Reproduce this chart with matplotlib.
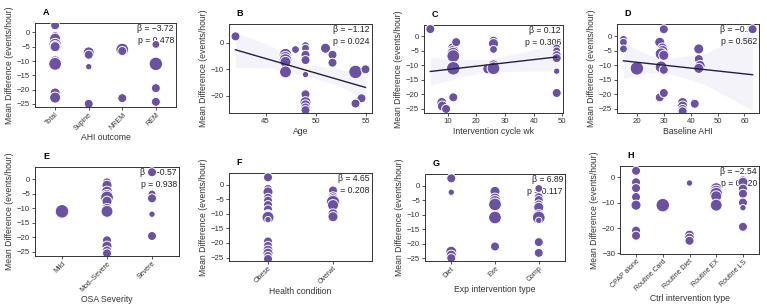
"""Meta-regression bubble plots (panels A-H)."""

import matplotlib.pyplot as plt
import numpy as np

plt.rcParams['font.family'] = ['Liberation Sans', 'DejaVu Sans']

W, H = 767, 308
PURPLE = '#6a51a3'
LINE = '#231d45'
BAND = '#efecf8'
YLAB = 'Mean Difference (events/hour)'

# ---- Panel A: AHI outcome ----
a_cats = ['Total', 'Supine', 'NREM', 'REM']
a_x = [1, 1, 1, 1, 1, 1, 1, 1, 1, 1, 2, 2, 2, 2, 3, 3, 3, 4, 4, 4, 4]
a_y = [2.5, -1.5, -2.2, -4.3, -4.8, -5.0, -10.3, -11.0, -21.2, -22.8,
       -7.0, -7.8, -12.0, -25.0, -6.0, -6.5, -23.0, -4.2, -11.0, -19.5, -24.3]
a_w = [4, 5, 6, 8, 6, 5, 7, 8, 5, 6, 6, 4, 2, 4, 8, 4, 4, 3, 9, 4, 4]

# ---- Panel B: Age ----
b_x = [42, 47, 47, 47, 47, 47, 48, 49, 49, 49, 49, 49, 49, 49, 49, 49, 49,
       51, 51.7, 51.7, 54, 55, 54.6, 54]
b_y = [2.5, -4.5, -5.5, -6.5, -7.2, -11, -2.5, -1, -2, -4.5, -6.5, -12, -19.5,
       -22.5, -23.5, -24.5, -25.5, -2, -4.5, -7.5, -11, -10, -21, -23]
b_w = [4, 8, 7, 8, 6, 7, 3, 3, 3, 4, 4, 2, 4, 6, 5, 4, 4, 5, 4, 4, 9, 4, 4, 4]
b_fit = (-2.6, -16.9)  # line at x=42 and x=55
b_band_x = [42, 45.5, 49, 52, 55]
b_band_lo = [-9.3, -9.5, -12.6, -15.8, -21.4]
b_band_hi = [4.0, -1.0, -8.0, -9.8, -12.4]

# ---- Panel C: Intervention cycle wk ----
c_x = [4, 12, 12, 12, 12, 12, 13, 12, 8, 8.2, 9.5, 24, 26, 26, 26, 26, 26,
       48, 48, 48, 48, 48, 48]
c_y = [2.5, -4, -5, -6, -6.8, -11, -2, -21, -22.8, -24, -25, -11.2, -1.5,
       -2.5, -4.5, -10, -11, -4, -5, -6.5, -7.5, -12, -19.5]
c_w = [4, 6, 6, 8, 8, 9, 4, 4, 5, 5, 4, 5, 4, 5, 3, 6, 8, 3, 3, 4, 4, 2, 4]
c_fit = (-12.1, -7.1)  # line at x=4 and x=48
c_band_x = [4, 15, 24, 36, 48]
c_band_lo = [-17.0, -13.8, -12.2, -12.0, -12.0]
c_band_hi = [-7.3, -8.0, -8.0, -5.5, -2.4]

# ---- Panel D: Baseline AHI ----
d_x = [15, 15, 15, 20, 28.5, 28.5, 30, 29.5, 29.5, 29, 30, 29, 30, 30,
       37, 37, 37, 37, 41.5, 43, 43, 43.5, 43, 63]
d_y = [-1, -2, -4.3, -11, -2, -21, 2.5, -4, -5, -6, -6.5, -10.5, -11.5, -19.5,
       -22.8, -24, -25, -25.8, -23.2, -4.3, -7.8, -10, -11, 2.5]
d_w = [3, 3, 3, 9, 5, 4, 4, 5, 6, 7, 5, 7, 4, 4, 5, 5, 4, 4, 4, 5, 4, 5, 5, 4]
d_fit = (-8.4, -13.2)  # line at x=15 and x=63
d_band_x = [15, 25, 33, 45, 63]
d_band_lo = [-14.5, -12.5, -13.0, -16.5, -25.5]
d_band_hi = [-2.3, -6.5, -7.4, -6.0, 2.0]

# ---- Panel E: OSA Severity ----
e_cats = ['Mild', 'Mod\u2013Severe', 'Severe']
e_x = [1] + [2] * 12 + [3] * 5
e_y = [-11, -1, -2, -4.2, -5.5, -6.2, -7.5, -10, -11, -21, -23, -24.5, -25.5,
       2.5, -5, -6.5, -12, -19.5]
e_w = [9, 4, 5, 6, 7, 8, 5, 5, 7, 4, 5, 4, 4, 4, 3, 4, 2, 4]

# ---- Panel F: Health condition ----
f_cats = ['Obese', 'Overwt']
f_x = [1] * 17 + [2] * 7
f_y = [2.5, -1.5, -2.5, -4.5, -5.5, -7, -8.5, -10.5, -11, -11.2, -12, -19.5,
       -21, -22.5, -23.5, -24.5, -25.5, -2, -4.2, -5, -6, -7, -10, -11]
f_w = [4, 4, 5, 4, 4, 4, 4, 6, 8, 7, 2, 4, 4, 5, 5, 4, 4, 4, 5, 6, 9, 6, 5, 5]

# ---- Panel G: Exp intervention type ----
g_cats = ['Diet', 'Exe', 'Comp']
g_x = [1] * 5 + [2] * 6 + [3] * 10
g_y = [2.5, -2.3, -22.8, -24, -25, -2, -4.5, -5.5, -6.5, -11, -21,
       -1, -4, -5, -6.5, -7.5, -10, -11, -12, -19.5, -23.2]
g_w = [4, 2, 6, 5, 4, 5, 6, 7, 8, 8, 4, 3, 4, 4, 4, 5, 5, 8, 2, 4, 4]

# ---- Panel H: Ctrl intervention type ----
h_cats = ['CPAP alone', 'Routine Card', 'Routine Diet', 'Routine EX', 'Routine LS']
h_x = [1] * 7 + [2] + [3] * 4 + [4] * 5 + [5] * 7
h_y = [2.5, -2, -4.3, -7.8, -11, -21, -23, -11, -2.3, -22.8, -24, -25,
       -4.5, -5.5, -6.5, -7.5, -11, -1, -2, -4.5, -6.5, -10, -12, -19.5]
h_w = [4, 4, 4, 4, 5, 4, 4, 9, 2, 5, 5, 4, 7, 7, 8, 6, 7, 3, 5, 4, 4, 4, 2, 4]

stats = {
    'A': ('\u22123.72', '0.478'), 'B': ('\u22121.12', '0.024'),
    'C': ('0.12', '0.306'), 'D': ('\u22120.10', '0.562'),
    'E': ('\u22120.57', '0.938'), 'F': ('4.65', '0.208'),
    'G': ('6.89', '0.117'), 'H': ('\u22122.54', '0.120'),
}

# axes boxes in pixels: left, top, right, bottom
boxes = {
    'A': (35, 23, 176, 107), 'B': (229, 24, 372, 113),
    'C': (424, 25, 563, 113), 'D': (617, 24, 759, 113),
    'E': (35, 167, 179, 256), 'F': (229, 173, 372, 261),
    'G': (425, 174, 565, 261), 'H': (620, 166, 759, 254),
}

fig = plt.figure(figsize=(W / 100, H / 100), dpi=100)


def make_ax(key):
    l, t, r, b = boxes[key]
    ax = fig.add_axes([l / W, 1 - b / H, (r - l) / W, (b - t) / H])
    for s in ax.spines.values():
        s.set_color('#333333')
        s.set_linewidth(0.7)
    ax.tick_params(labelsize=5.6, length=2, width=0.6, color='#333333',
                   labelcolor='#333333', pad=1.5)
    ax.set_ylabel(YLAB, fontsize=6.2, color='#333333', labelpad=2)
    ax.text(0.055, 1.07, key, transform=ax.transAxes, fontsize=6.5,
            fontweight='bold', va='bottom', ha='left')
    beta, p = stats[key]
    ax.text(0.985, 0.985, '\u03b2 = %s\np = %s' % (beta, p),
            transform=ax.transAxes, ha='right', va='top', fontsize=6.2,
            color='#222222', linespacing=1.45, zorder=2)
    return ax


def bubbles(ax, x, y, w):
    ax.scatter(x, y, s=np.array(w) * 10.5, color=PURPLE, edgecolor='white',
               linewidth=0.7, zorder=3)


def cat_panel(key, cats, x, y, w, ylim, rot_lab):
    ax = make_ax(key)
    bubbles(ax, x, y, w)
    ax.set_xlim(0.4, len(cats) + 0.6)
    ax.set_xticks(range(1, len(cats) + 1))
    ax.set_xticklabels(cats, rotation=45, ha='right', rotation_mode='anchor',
                       fontsize=5.0)
    ax.tick_params(axis='x', pad=1)
    ax.set_ylim(*ylim)
    ax.set_xlabel(rot_lab, fontsize=6.2, color='#333333', labelpad=1)
    return ax


def reg_panel(key, x, y, w, fit, bx, blo, bhi, xlim, ylim, xlab):
    ax = make_ax(key)
    ax.fill_between(bx, blo, bhi, color=BAND, alpha=0.6, lw=0, zorder=1)
    ax.plot([min(x), max(x)], fit, color=LINE, lw=1.0, zorder=4)
    bubbles(ax, x, y, w)
    ax.set_xlim(*xlim)
    ax.set_ylim(*ylim)
    ax.set_xlabel(xlab, fontsize=6.2, color='#333333', labelpad=1.5)
    return ax


ax = cat_panel('A', a_cats, a_x, a_y, a_w, (-26.1, 3.3), 'AHI outcome')
ax.set_yticks([0, -5, -10, -15, -20, -25])

ax = reg_panel('B', b_x, b_y, b_w, b_fit, b_band_x, b_band_lo, b_band_hi,
               (41.35, 55.65), (-26.6, 7.2), 'Age')
ax.set_xticks([45, 50, 55])
ax.set_yticks([0, -10, -20])

ax = reg_panel('C', c_x, c_y, c_w, c_fit, c_band_x, c_band_lo, c_band_hi,
               (1.8, 50.2), (-26.4, 3.9), 'Intervention cycle wk')
ax.set_xticks([10, 20, 30, 40, 50])
ax.set_yticks([0, -5, -10, -15, -20, -25])

ax = reg_panel('D', d_x, d_y, d_w, d_fit, d_band_x, d_band_lo, d_band_hi,
               (12.6, 65.4), (-26.4, 4.3), 'Baseline AHI')
ax.set_xticks([20, 30, 40, 50, 60])
ax.set_yticks([0, -5, -10, -15, -20, -25])

ax = cat_panel('E', e_cats, e_x, e_y, e_w, (-26.4, 4.3), 'OSA Severity')
ax.set_yticks([0, -5, -10, -15, -20, -25])

ax = cat_panel('F', f_cats, f_x, f_y, f_w, (-26.2, 4.0), 'Health condition')
ax.set_yticks([0, -5, -10, -15, -20, -25])

ax = cat_panel('G', g_cats, g_x, g_y, g_w, (-26.0, 4.0), 'Exp intervention type')
ax.set_yticks([0, -5, -10, -15, -20, -25])

ax = cat_panel('H', h_cats, h_x, h_y, h_w, (-30.2, 4.4), 'Ctrl intervention type')
ax.set_yticks([0, -10, -20, -30])

fig.savefig('out.png', dpi=100)
